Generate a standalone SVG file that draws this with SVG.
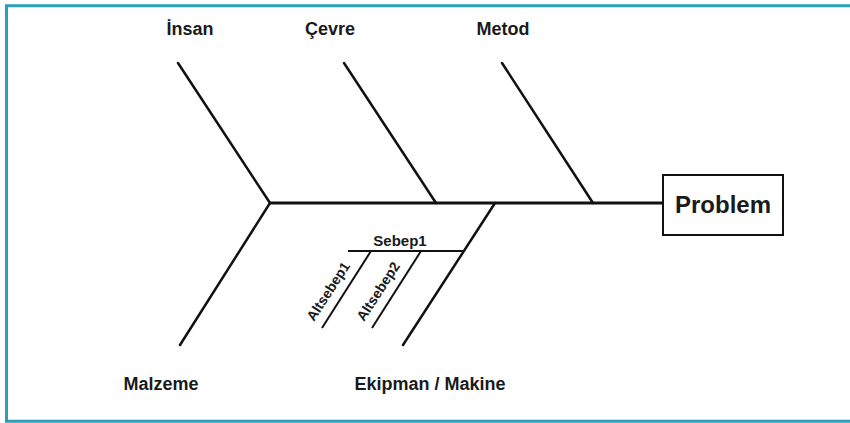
<svg xmlns="http://www.w3.org/2000/svg" width="850" height="423" viewBox="0 0 850 423">
<style>
.bone{stroke:#111;stroke-width:2.5;stroke-linecap:round;fill:none}
.spine{stroke:#111;stroke-width:3.2;fill:none}
.sub{stroke:#111;stroke-width:2;fill:none}
.lbl{font-family:"Liberation Sans",Arial,sans-serif;font-weight:bold;fill:#1a1a1a}
.cat{font-size:18px;text-anchor:middle}
.frame{stroke:#2a9fba;stroke-width:3;fill:none}
</style>
<rect width="850" height="423" fill="#fff"/>
<path class="frame" d="M850,5.7 H6.5 V421.3 H850"/>
<g id="connectors">
<line class="spine" x1="270" y1="203" x2="663" y2="203"/>
<line class="bone" x1="178" y1="63" x2="270" y2="203"/>
<line class="bone" x1="344" y1="63" x2="436" y2="203"/>
<line class="bone" x1="502" y1="63" x2="593" y2="203"/>
<line class="bone" x1="270" y1="203" x2="180" y2="345"/>
<line class="bone" x1="495" y1="203" x2="403" y2="345"/>
<line class="sub" x1="348" y1="251" x2="464" y2="251"/>
<line class="sub" x1="371" y1="251" x2="322" y2="328"/>
<line class="sub" x1="421" y1="251" x2="372" y2="328"/>
</g>
<g id="problem">
<rect x="663" y="175" width="120" height="60" fill="#fff" stroke="#111" stroke-width="2"/>
<text class="lbl" x="723" y="213" font-size="24" text-anchor="middle">Problem</text>
</g>
<g id="insan"><text class="lbl cat" x="190" y="35">İnsan</text></g>
<g id="cevre"><text class="lbl cat" x="330" y="35">Çevre</text></g>
<g id="metod"><text class="lbl cat" x="503" y="35">Metod</text></g>
<g id="malzeme"><text class="lbl cat" x="161" y="390">Malzeme</text></g>
<g id="ekipman"><text class="lbl cat" x="430" y="390">Ekipman / Makine</text></g>
<g id="sebep1"><text class="lbl" x="400" y="246" font-size="15" text-anchor="middle">Sebep1</text></g>
<g id="altsebep1"><text class="lbl" x="314" y="322" font-size="14" transform="rotate(-57 314 322)">Altsebep1</text></g>
<g id="altsebep2"><text class="lbl" x="364" y="322" font-size="14" transform="rotate(-57 364 322)">Altsebep2</text></g>
</svg>
